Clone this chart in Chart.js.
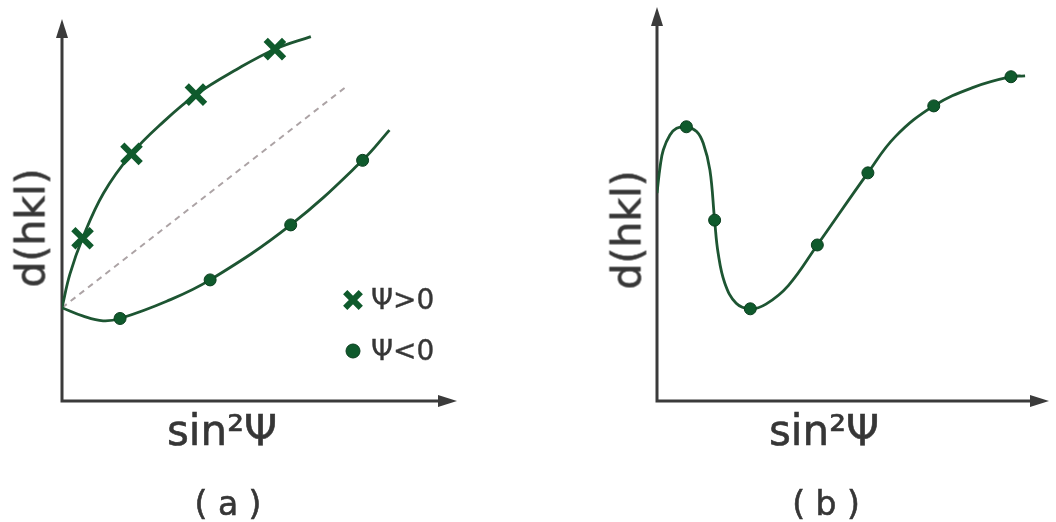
<!DOCTYPE html>
<html>
<head>
<meta charset="utf-8">
<script src="https://cdn.jsdelivr.net/npm/chart.js@4.4.1/dist/chart.umd.min.js"></script>
<style>
  html, body { margin: 0; padding: 0; background: #fff; }
  #wrap { position: relative; width: 1056px; height: 522px; overflow: hidden;
          font-family: "DejaVu Sans", sans-serif; color: #363636; }
  canvas { position: absolute; top: 0; }
  .lbl { position: absolute; white-space: nowrap; line-height: 1; transform: translate(-50%, -50%);
         -webkit-text-stroke: 0.6px #363636; }
  .rot { transform: translate(-50%, -50%) rotate(-90deg); }
  .leg { position: absolute; white-space: nowrap; line-height: 1; transform: translate(0, -50%);
         font-size: 28px; -webkit-text-stroke: 0.4px #363636; }
</style>
</head>
<body>
<div id="wrap">
  <canvas id="chartA" width="528" height="522" style="left:0"></canvas>
  <canvas id="chartB" width="528" height="522" style="left:528px"></canvas>

  <div class="lbl rot" style="left:31px; top:228px; font-size:41px;">d(hkl)</div>
  <div class="lbl" style="left:222px; top:431px; font-size:42px;">sin²Ψ</div>
  <div class="lbl" style="left:228px; top:503px; font-size:33px;">( a )</div>
  <div class="leg" style="left:371px; top:300px;">Ψ&gt;0</div>
  <div class="leg" style="left:371px; top:351px;">Ψ&lt;0</div>

  <div class="lbl rot" style="left:627px; top:230px; font-size:41px;">d(hkl)</div>
  <div class="lbl" style="left:824px; top:431px; font-size:42px;">sin²Ψ</div>
  <div class="lbl" style="left:826px; top:503px; font-size:33px;">( b )</div>
</div>

<script>
// ---- (a) d(hkl) vs sin²Ψ, split branches for Ψ>0 and Ψ<0 ----
const upperCurveX = [0, 2.0, 5.2, 10.5, 17.6, 25.6, 33.9, 44.2, 53.9, 63.0];
const upperCurveY = [24.4, 33.2, 42.6, 54.4, 64.7, 73.0, 80.2, 86.8, 92.1, 95.4];
const posPsiX = [5.2, 17.6, 33.9, 53.9];
const posPsiY = [42.6, 64.7, 80.2, 92.1];

const lowerCurveX = [0, 5.4, 10.4, 14.7, 26.5, 37.5, 57.9, 76.1, 82.9];
const lowerCurveY = [24.4, 22.2, 21.0, 21.6, 26.1, 31.7, 46.1, 63.0, 70.9];
const negPsiX = [14.7, 37.5, 57.9, 76.1];
const negPsiY = [21.6, 31.7, 46.1, 63.0];

const linearRefX = [0, 71.6];
const linearRefY = [24.4, 82.0];

// ---- (b) oscillating d(hkl) vs sin²Ψ ----
const oscCurveX = [0, 0.8, 1.6, 3.3, 5.0, 7.5, 10.1, 11.8, 13.5, 14.7, 15.6, 17.3, 20.2, 23.8,
                   27.8, 33.5, 40.9, 53.8, 60.8, 70.6, 80.7, 90.3, 93.9];
const oscCurveY = [52.8, 59.5, 63.7, 67.5, 69.2, 69.6, 68.4, 65.4, 58.6, 45.9, 37.5, 29.9, 24.8, 23.4,
                   24.6, 29.3, 39.6, 57.9, 67.1, 74.9, 79.6, 82.3, 82.5];
const oscPtsX = [7.5, 14.7, 23.8, 40.9, 53.8, 70.6, 90.3];
const oscPtsY = [69.6, 45.9, 23.4, 39.6, 57.9, 74.9, 82.3];

const GREEN_LINE = '#1d5532';
const GREEN_MARK = '#0f5a2c';
const GREEN_EDGE = '#0a3e1e';
const AXIS = '#3b3b3b';

const pts = (xs, ys) => xs.map((x, i) => ({ x, y: ys[i] }));

// Axes drawn as arrows from the origin of the plotting area
const arrowAxes = {
  id: 'arrowAxes',
  beforeDatasetsDraw(chart) {
    const { ctx, chartArea: { left, right, top, bottom } } = chart;
    ctx.save();
    ctx.strokeStyle = AXIS;
    ctx.fillStyle = AXIS;
    ctx.lineWidth = 3;
    ctx.beginPath();
    ctx.moveTo(left, top + 14);
    ctx.lineTo(left, bottom);
    ctx.lineTo(right - 14, bottom);
    ctx.stroke();
    ctx.beginPath();
    ctx.moveTo(left, top);
    ctx.lineTo(left - 6, top + 19);
    ctx.lineTo(left + 6, top + 19);
    ctx.closePath();
    ctx.fill();
    ctx.beginPath();
    ctx.moveTo(right, bottom);
    ctx.lineTo(right - 19, bottom - 6);
    ctx.lineTo(right - 19, bottom + 6);
    ctx.closePath();
    ctx.fill();
    ctx.restore();
  }
};

// Marker key for the two Ψ branches
const markerKey = {
  id: 'markerKey',
  afterDatasetsDraw(chart) {
    const ctx = chart.ctx;
    ctx.save();
    ctx.strokeStyle = GREEN_MARK;
    ctx.fillStyle = GREEN_MARK;
    ctx.lineWidth = 6;
    Chart.helpers.drawPoint(ctx, { pointStyle: 'crossRot', radius: 11, borderWidth: 6, rotation: 0 }, 353, 300);
    ctx.strokeStyle = GREEN_EDGE;
    ctx.lineWidth = 1;
    Chart.helpers.drawPoint(ctx, { pointStyle: 'circle', radius: 7, borderWidth: 1, rotation: 0 }, 353, 351);
    ctx.restore();
  }
};

const curve = (data) => ({
  type: 'line', data, borderColor: GREEN_LINE, borderWidth: 2.8, pointRadius: 0,
  tension: 0.4, fill: false, order: 2
});
const dots = (data) => ({
  type: 'scatter', data, showLine: false, pointStyle: 'circle', pointRadius: 6,
  pointBackgroundColor: GREEN_MARK, pointBorderColor: GREEN_EDGE, pointBorderWidth: 1, order: 1
});

const baseOptions = (pad) => ({
  responsive: false,
  animation: false,
  devicePixelRatio: 1,
  layout: { padding: pad },
  plugins: { legend: { display: false }, tooltip: { enabled: false } },
  scales: {
    x: { type: 'linear', min: 0, max: 100, display: false },
    y: { type: 'linear', min: 0, max: 100, display: false }
  }
});

new Chart(document.getElementById('chartA'), {
  type: 'line',
  data: {
    datasets: [
      curve(pts(upperCurveX, upperCurveY)),
      curve(pts(lowerCurveX, lowerCurveY)),
      {
        type: 'line', data: pts(linearRefX, linearRefY), borderColor: '#aca3a5', borderWidth: 2,
        borderDash: [6, 5], pointRadius: 0, fill: false, order: 3
      },
      {
        type: 'scatter', data: pts(posPsiX, posPsiY), showLine: false, pointStyle: 'crossRot',
        pointRadius: 13, pointBorderWidth: 6, pointBorderColor: GREEN_MARK, pointBackgroundColor: GREEN_MARK, order: 1
      },
      dots(pts(negPsiX, negPsiY))
    ]
  },
  options: baseOptions({ left: 62, right: 71, top: 7, bottom: 121 }),
  plugins: [arrowAxes, markerKey]
});

new Chart(document.getElementById('chartB'), {
  type: 'line',
  data: {
    datasets: [
      curve(pts(oscCurveX, oscCurveY)),
      dots(pts(oscPtsX, oscPtsY))
    ]
  },
  options: baseOptions({ left: 129, right: 5, top: 7, bottom: 121 }),
  plugins: [arrowAxes]
});
</script>
</body>
</html>
